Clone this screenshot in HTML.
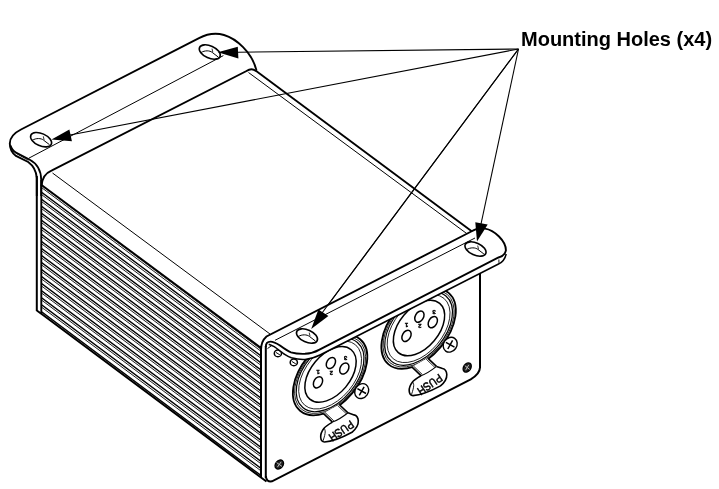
<!DOCTYPE html>
<html><head><meta charset="utf-8"><style>
html,body{margin:0;padding:0;background:#fff;width:719px;height:489px;overflow:hidden}
svg{position:absolute;left:0;top:0;will-change:transform}
.lbl{position:absolute;left:520.5px;top:28.9px;will-change:transform;font-family:"Liberation Sans",sans-serif;font-weight:bold;font-size:20px;line-height:1;white-space:nowrap;color:#000}
</style></head><body>
<svg width="719" height="489" viewBox="0 0 719 489">
<clipPath id="fc"><path d="M41.5,186 L261,349 L261,478 L41.5,314 Z"/></clipPath>
<g clip-path="url(#fc)"><line x1="40" y1="184.00" x2="262" y2="349.61" stroke="#000" stroke-width="1.4"/><line x1="40" y1="186.40" x2="262" y2="352.01" stroke="#111" stroke-width="0.95"/><line x1="40" y1="191.03" x2="262" y2="356.65" stroke="#000" stroke-width="1.4"/><line x1="40" y1="193.44" x2="262" y2="359.05" stroke="#111" stroke-width="0.95"/><line x1="40" y1="198.07" x2="262" y2="363.68" stroke="#000" stroke-width="1.4"/><line x1="40" y1="200.47" x2="262" y2="366.08" stroke="#111" stroke-width="0.95"/><line x1="40" y1="205.10" x2="262" y2="370.72" stroke="#000" stroke-width="1.4"/><line x1="40" y1="207.50" x2="262" y2="373.12" stroke="#111" stroke-width="0.95"/><line x1="40" y1="212.14" x2="262" y2="377.75" stroke="#000" stroke-width="1.4"/><line x1="40" y1="214.54" x2="262" y2="380.15" stroke="#111" stroke-width="0.95"/><line x1="40" y1="219.18" x2="262" y2="384.79" stroke="#000" stroke-width="1.4"/><line x1="40" y1="221.58" x2="262" y2="387.19" stroke="#111" stroke-width="0.95"/><line x1="40" y1="226.21" x2="262" y2="391.82" stroke="#000" stroke-width="1.4"/><line x1="40" y1="228.61" x2="262" y2="394.22" stroke="#111" stroke-width="0.95"/><line x1="40" y1="233.25" x2="262" y2="398.86" stroke="#000" stroke-width="1.4"/><line x1="40" y1="235.65" x2="262" y2="401.26" stroke="#111" stroke-width="0.95"/><line x1="40" y1="240.28" x2="262" y2="405.89" stroke="#000" stroke-width="1.4"/><line x1="40" y1="242.68" x2="262" y2="408.29" stroke="#111" stroke-width="0.95"/><line x1="40" y1="247.31" x2="262" y2="412.93" stroke="#000" stroke-width="1.4"/><line x1="40" y1="249.72" x2="262" y2="415.33" stroke="#111" stroke-width="0.95"/><line x1="40" y1="254.35" x2="262" y2="419.96" stroke="#000" stroke-width="1.4"/><line x1="40" y1="256.75" x2="262" y2="422.36" stroke="#111" stroke-width="0.95"/><line x1="40" y1="261.38" x2="262" y2="427.00" stroke="#000" stroke-width="1.4"/><line x1="40" y1="263.78" x2="262" y2="429.40" stroke="#111" stroke-width="0.95"/><line x1="40" y1="268.42" x2="262" y2="434.03" stroke="#000" stroke-width="1.4"/><line x1="40" y1="270.82" x2="262" y2="436.43" stroke="#111" stroke-width="0.95"/><line x1="40" y1="275.45" x2="262" y2="441.07" stroke="#000" stroke-width="1.4"/><line x1="40" y1="277.85" x2="262" y2="443.47" stroke="#111" stroke-width="0.95"/><line x1="40" y1="282.49" x2="262" y2="448.10" stroke="#000" stroke-width="1.4"/><line x1="40" y1="284.89" x2="262" y2="450.50" stroke="#111" stroke-width="0.95"/><line x1="40" y1="289.52" x2="262" y2="455.14" stroke="#000" stroke-width="1.4"/><line x1="40" y1="291.92" x2="262" y2="457.54" stroke="#111" stroke-width="0.95"/><line x1="40" y1="296.56" x2="262" y2="462.17" stroke="#000" stroke-width="1.4"/><line x1="40" y1="298.96" x2="262" y2="464.57" stroke="#111" stroke-width="0.95"/><line x1="40" y1="303.60" x2="262" y2="469.21" stroke="#000" stroke-width="1.4"/><line x1="40" y1="306.00" x2="262" y2="471.61" stroke="#111" stroke-width="0.95"/><line x1="40" y1="310.63" x2="262" y2="476.24" stroke="#000" stroke-width="1.4"/><line x1="40" y1="313.03" x2="262" y2="478.64" stroke="#111" stroke-width="0.95"/><line x1="40" y1="317.66" x2="262" y2="483.28" stroke="#000" stroke-width="1.4"/><line x1="40" y1="320.06" x2="262" y2="485.68" stroke="#111" stroke-width="0.95"/></g>
<line x1="41.5" y1="185" x2="261" y2="348" stroke="#000" stroke-width="2.0"/>
<path d="M36.8,310.5 L43,315 L261,477.5 L266.5,481.5" stroke="#000" stroke-width="2.0" fill="none" />
<line x1="41.3" y1="180" x2="41.3" y2="314" stroke="#000" stroke-width="1.9"/>
<line x1="36.8" y1="176" x2="36.8" y2="311" stroke="#000" stroke-width="2.0"/>
<line x1="261" y1="346" x2="261" y2="477" stroke="#000" stroke-width="2.0"/>
<path d="M36.8,196 L36.8,178 C36.3,171 33,165.5 28.2,162 L16,155.9 C12,153 9.8,148 9.8,143.5 C9.8,137.5 14,133 21,129.5 L199,38.2 C206,34.5 215,32.5 224,35 C236,38.5 252,52 256.5,70.5" stroke="#000" stroke-width="1.9" fill="none" />
<path d="M10.6,145.5 C11.5,149 13,151 16,152.5 L29.4,159.5 C36,163 41.2,170 41.2,180 L41.2,196" stroke="#000" stroke-width="1.8" fill="none" />
<path d="M12,148.5 C13,151 15,153 18,154.5 L28.5,160.3" stroke="#000" stroke-width="0.9" fill="none" />
<path d="M41.5,186 C42,179 45.5,173 51.5,170.6 L246.5,71 C249.5,69 253,68.5 256,71" stroke="#000" stroke-width="1.9" fill="none" />
<line x1="28.8" y1="158.2" x2="223.4" y2="55.6" stroke="#000" stroke-width="1.0"/>
<line x1="255.5" y1="70.6" x2="471.7" y2="231.3" stroke="#000" stroke-width="1.9"/>
<line x1="248.5" y1="72.5" x2="468" y2="234.5" stroke="#000" stroke-width="1.0"/>
<line x1="52.5" y1="173" x2="270" y2="334" stroke="#000" stroke-width="1.0"/>
<ellipse cx="209.8" cy="52" rx="11.2" ry="6.1" transform="rotate(24 209.8 52)" stroke="#000" stroke-width="1.6" fill="none"/>
<path d="M200.9,52.6 C204.8,50.2 209.8,50.4 212.2,52.4 L218.2,57" stroke="#000" stroke-width="1.0" fill="none" />
<line x1="212" y1="48.6" x2="212.8" y2="52.2" stroke="#000" stroke-width="0.8"/>
<ellipse cx="41.1" cy="139.7" rx="11.2" ry="6.1" transform="rotate(24 41.1 139.7)" stroke="#000" stroke-width="1.6" fill="none"/>
<path d="M32.2,140.3 C36.1,137.9 41.1,138.1 43.5,140.1 L49.5,144.7" stroke="#000" stroke-width="1.0" fill="none" />
<line x1="43.3" y1="136.3" x2="44.1" y2="139.9" stroke="#000" stroke-width="0.8"/>
<line x1="265.8" y1="346" x2="265.8" y2="478" stroke="#000" stroke-width="2.0"/>
<path d="M265.8,476 C266.2,480 268,482 272,481.3 L470.7,379.3 C475.5,376.5 479.8,373 480,367.5" stroke="#000" stroke-width="2.0" fill="none" />
<line x1="480" y1="268" x2="480" y2="368" stroke="#000" stroke-width="2.0"/>
<line x1="518.5" y1="49" x2="238" y2="52.2" stroke="#000" stroke-width="1.1"/>
<line x1="518.5" y1="49" x2="70" y2="135" stroke="#000" stroke-width="1.1"/>
<line x1="518.5" y1="49" x2="322" y2="313" stroke="#000" stroke-width="1.1"/>
<path d="M217.8,52.2 L237.8,46.7 L238.4,58.4Z" fill="#000"/>
<path d="M51.5,139.4 L69.4,129.4 L71.9,141.25Z" fill="#000"/>
<path d="M311.2,328.9 L318.4,309.5 L328.4,316.1Z" fill="#000"/>
<ellipse cx="418.6" cy="328.6" rx="46.7" ry="28.7" transform="rotate(-50 418.6 328.6)" stroke="#000" stroke-width="1.8" fill="none"/>
<ellipse cx="418.6" cy="328.6" rx="44.6" ry="27.41" transform="rotate(-50 418.6 328.6)" stroke="#000" stroke-width="0.8" fill="none"/>
<ellipse cx="418.6" cy="328.6" rx="42.5" ry="26.12" transform="rotate(-50 418.6 328.6)" stroke="#000" stroke-width="1.2" fill="none"/>
<ellipse cx="418.6" cy="328.6" rx="39.46" ry="24.25" transform="rotate(-50 418.6 328.6)" stroke="#000" stroke-width="0.8" fill="none"/>
<ellipse cx="419" cy="328" rx="32.2" ry="19.8" transform="rotate(-50 419 328)" stroke="#000" stroke-width="1.5" fill="none"/>
<ellipse cx="406.5" cy="335.9" rx="6" ry="4.1" transform="rotate(-60 406.5 335.9)" stroke="#000" stroke-width="1.5" fill="none"/>
<ellipse cx="419.4" cy="316.6" rx="6" ry="4.1" transform="rotate(-60 419.4 316.6)" stroke="#000" stroke-width="1.5" fill="none"/>
<ellipse cx="432.8" cy="322.1" rx="6" ry="4.1" transform="rotate(-60 432.8 322.1)" stroke="#000" stroke-width="1.5" fill="none"/>
<text x="406.5" y="325.4" text-anchor="middle" dominant-baseline="central" font-family="Liberation Sans" font-size="6" font-weight="bold" fill="#000" stroke="#000" stroke-width="0.4" transform="rotate(180 406.5 325.4)">1</text>
<text x="419.9" y="326.4" text-anchor="middle" dominant-baseline="central" font-family="Liberation Sans" font-size="6" font-weight="bold" fill="#000" stroke="#000" stroke-width="0.4" transform="rotate(180 419.9 326.4)">2</text>
<text x="434.1" y="311.5" text-anchor="middle" dominant-baseline="central" font-family="Liberation Sans" font-size="6" font-weight="bold" fill="#000" stroke="#000" stroke-width="0.4" transform="rotate(180 434.1 311.5)">3</text>
<ellipse cx="450.2" cy="344.7" rx="7.8" ry="6.6" transform="rotate(-55 450.2 344.7)" stroke="#000" stroke-width="1.4" fill="#fff"/>
<path d="M445.9,342.3 L454.5,347.1 M452.6,340.4 L447.8,349" stroke="#000" stroke-width="1.5" fill="none" />
<path d="M411.8,366.9 L411.8,366.9 L412.5,367.5 L421,375.7 L436.5,366.4 L427.7,358.1 Z" stroke="#000" stroke-width="0" fill="#fff" />
<line x1="411.8" y1="366.9" x2="421" y2="375.7" stroke="#000" stroke-width="1.6"/>
<line x1="413.4" y1="366" x2="422.4" y2="374.6" stroke="#000" stroke-width="0.9"/>
<line x1="427.7" y1="358.1" x2="436.5" y2="366.4" stroke="#000" stroke-width="1.6"/>
<line x1="426.2" y1="359.2" x2="435" y2="367.5" stroke="#000" stroke-width="0.8"/>
<path d="M421,375.7 C417,378 413.5,380.5 412.5,381.9 C410.5,384.5 409,388 409.2,390.9 C409.4,394 410.5,395.6 413,395.6 C421,395.2 432,390.5 440.5,385.9 C444,383 447,379 446.8,374.5 C446.6,371 445,369 442.5,368.5 L436.5,366.4" stroke="#000" stroke-width="1.6" fill="#fff" />
<path d="M421,375.7 C426,374 432,370 436.5,366.4" stroke="#000" stroke-width="1.1" fill="none" />
<path d="M412.5,381.9 C414,383.5 414.5,386 411.5,394.5" stroke="#000" stroke-width="0.9" fill="none" />
<text x="0" y="0" transform="translate(430,384.8) rotate(146) scale(0.86,1.0)" text-anchor="middle" dominant-baseline="central" font-family="Liberation Sans" font-size="11.5" fill="#000" stroke="#000" stroke-width="0.5">PUSH</text>
<ellipse cx="330.1" cy="375" rx="46.7" ry="28.7" transform="rotate(-50 330.1 375)" stroke="#000" stroke-width="1.8" fill="none"/>
<ellipse cx="330.1" cy="375" rx="44.6" ry="27.41" transform="rotate(-50 330.1 375)" stroke="#000" stroke-width="0.8" fill="none"/>
<ellipse cx="330.1" cy="375" rx="42.5" ry="26.12" transform="rotate(-50 330.1 375)" stroke="#000" stroke-width="1.2" fill="none"/>
<ellipse cx="330.1" cy="375" rx="39.46" ry="24.25" transform="rotate(-50 330.1 375)" stroke="#000" stroke-width="0.8" fill="none"/>
<ellipse cx="330.5" cy="374.4" rx="32.2" ry="19.8" transform="rotate(-50 330.5 374.4)" stroke="#000" stroke-width="1.5" fill="none"/>
<ellipse cx="318" cy="382.3" rx="6" ry="4.1" transform="rotate(-60 318 382.3)" stroke="#000" stroke-width="1.5" fill="none"/>
<ellipse cx="330.9" cy="363" rx="6" ry="4.1" transform="rotate(-60 330.9 363)" stroke="#000" stroke-width="1.5" fill="none"/>
<ellipse cx="344.3" cy="368.5" rx="6" ry="4.1" transform="rotate(-60 344.3 368.5)" stroke="#000" stroke-width="1.5" fill="none"/>
<text x="318" y="371.8" text-anchor="middle" dominant-baseline="central" font-family="Liberation Sans" font-size="6" font-weight="bold" fill="#000" stroke="#000" stroke-width="0.4" transform="rotate(180 318 371.8)">1</text>
<text x="331.4" y="372.8" text-anchor="middle" dominant-baseline="central" font-family="Liberation Sans" font-size="6" font-weight="bold" fill="#000" stroke="#000" stroke-width="0.4" transform="rotate(180 331.4 372.8)">2</text>
<text x="345.6" y="357.9" text-anchor="middle" dominant-baseline="central" font-family="Liberation Sans" font-size="6" font-weight="bold" fill="#000" stroke="#000" stroke-width="0.4" transform="rotate(180 345.6 357.9)">3</text>
<ellipse cx="361.7" cy="391.1" rx="7.8" ry="6.6" transform="rotate(-55 361.7 391.1)" stroke="#000" stroke-width="1.4" fill="#fff"/>
<path d="M357.4,388.7 L366,393.5 M364.1,386.8 L359.3,395.4" stroke="#000" stroke-width="1.5" fill="none" />
<path d="M323.3,413.3 L323.3,413.3 L324,413.9 L332.5,422.1 L348,412.8 L339.2,404.5 Z" stroke="#000" stroke-width="0" fill="#fff" />
<line x1="323.3" y1="413.3" x2="332.5" y2="422.1" stroke="#000" stroke-width="1.6"/>
<line x1="324.9" y1="412.4" x2="333.9" y2="421" stroke="#000" stroke-width="0.9"/>
<line x1="339.2" y1="404.5" x2="348" y2="412.8" stroke="#000" stroke-width="1.6"/>
<line x1="337.7" y1="405.6" x2="346.5" y2="413.9" stroke="#000" stroke-width="0.8"/>
<path d="M332.5,422.1 C328.5,424.4 325,426.9 324,428.3 C322,430.9 320.5,434.4 320.7,437.3 C320.9,440.4 322,442 324.5,442 C332.5,441.6 343.5,436.9 352,432.3 C355.5,429.4 358.5,425.4 358.3,420.9 C358.1,417.4 356.5,415.4 354,414.9 L348,412.8" stroke="#000" stroke-width="1.6" fill="#fff" />
<path d="M332.5,422.1 C337.5,420.4 343.5,416.4 348,412.8" stroke="#000" stroke-width="1.1" fill="none" />
<path d="M324,428.3 C325.5,429.9 326,432.4 323,440.9" stroke="#000" stroke-width="0.9" fill="none" />
<text x="0" y="0" transform="translate(341.5,431.2) rotate(146) scale(0.86,1.0)" text-anchor="middle" dominant-baseline="central" font-family="Liberation Sans" font-size="11.5" fill="#000" stroke="#000" stroke-width="0.5">PUSH</text>
<ellipse cx="277.9" cy="353.4" rx="3.6" ry="3.3" transform="rotate(0 277.9 353.4)" stroke="#000" stroke-width="1.5" fill="none"/>
<line x1="275.9" y1="352.4" x2="279.9" y2="354.9" stroke="#000" stroke-width="1.0"/>
<ellipse cx="293.8" cy="362.4" rx="3.6" ry="3.3" transform="rotate(0 293.8 362.4)" stroke="#000" stroke-width="1.5" fill="none"/>
<line x1="291.8" y1="361.4" x2="295.8" y2="363.9" stroke="#000" stroke-width="1.0"/>
<path d="M261,350 C261,345 262,340.5 266.5,336.5 L471.7,231.3 C475,229 480,228 485,228.6 C490,229.3 495,232.5 499,236.5 C503,240.5 506,245 505.9,250.5 L506.2,254 C505,259 502,262.5 498.5,264 L320,355 C316,357 311,359 305,359.4 C300,359.7 296,359 291.4,357.8 C288,356.5 285.5,354.8 283.4,353.5 C280,351 277,348.5 274.2,346.7 C272,345.5 270.5,344.8 266,344 Z" stroke="#000" stroke-width="0" fill="#fff" />
<path d="M261,350 C261,345 262,340.5 266.5,336.5 L471.7,231.3 C475,229 480,228 485,228.6 C490,229.3 495,232.5 499,236.5 C503,240.5 506,245 505.9,250.5 C505.2,253.5 502.5,256.5 498.5,257.5 L319,349.8 C316,351.5 312,353.4 305,353.8 C299,354 295,353.5 291,352.3 C287,350.8 284,348.5 280,345.5 C276,343 273.5,341.6 270.5,341.6 C267,341.6 265.8,343.5 265.8,347" stroke="#000" stroke-width="1.9" fill="none" />
<path d="M506.2,254 C505,259 502,262.5 498.5,264 L320,355 C316,357 311,359 305,359.4 C300,359.7 296,359 291.4,357.8 C288,356.5 285.5,354.8 283.4,353.5 C280,351 277,348.5 274.2,346.7 C272,345.5 270.5,344.8 268.7,344.3" stroke="#000" stroke-width="1.5" fill="none" />
<line x1="498.9" y1="259.5" x2="498.9" y2="262.8" stroke="#000" stroke-width="0.9"/>
<line x1="267.5" y1="348.6" x2="271.7" y2="345.5" stroke="#000" stroke-width="1.0"/>
<line x1="275" y1="340.3" x2="475" y2="238" stroke="#000" stroke-width="1.0"/>
<ellipse cx="475.5" cy="249" rx="11.2" ry="6.1" transform="rotate(24 475.5 249)" stroke="#000" stroke-width="1.6" fill="none"/>
<path d="M466.6,249.6 C470.5,247.2 475.5,247.4 477.9,249.4 L483.9,254" stroke="#000" stroke-width="1.0" fill="none" />
<line x1="477.7" y1="245.6" x2="478.5" y2="249.2" stroke="#000" stroke-width="0.8"/>
<ellipse cx="307" cy="336" rx="11.2" ry="6.1" transform="rotate(24 307 336)" stroke="#000" stroke-width="1.6" fill="none"/>
<path d="M298.1,336.6 C302,334.2 307,334.4 309.4,336.4 L315.4,341" stroke="#000" stroke-width="1.0" fill="none" />
<line x1="309.2" y1="332.6" x2="310" y2="336.2" stroke="#000" stroke-width="0.8"/>
<line x1="518.5" y1="49" x2="322" y2="313" stroke="#000" stroke-width="1.1"/>
<path d="M311.2,328.9 L318.4,309.5 L328.4,316.1Z" fill="#000"/>
<line x1="518.5" y1="49" x2="481" y2="224" stroke="#000" stroke-width="1.1"/>
<path d="M477,241.5 L475.3,222.3 L487.7,224.6Z" fill="#000"/>
<ellipse cx="279.3" cy="464.5" rx="4.9" ry="3.6" transform="rotate(-50 279.3 464.5)" stroke="#000" stroke-width="1.5" fill="#222"/>
<path d="M276.6,462.6 L282,466.4 M281.2,461.8 L277.4,467.2" stroke="#bbb" stroke-width="1"/>
<ellipse cx="467.2" cy="367.5" rx="4.9" ry="3.5" transform="rotate(-55 467.2 367.5)" stroke="#000" stroke-width="1.5" fill="#222"/>
<path d="M464.8,365.6 L469.6,369.4 M468.8,364.8 L465.6,370.2" stroke="#bbb" stroke-width="1"/>
</svg>
<div class="lbl">Mounting Holes (x4)</div>
</body></html>
